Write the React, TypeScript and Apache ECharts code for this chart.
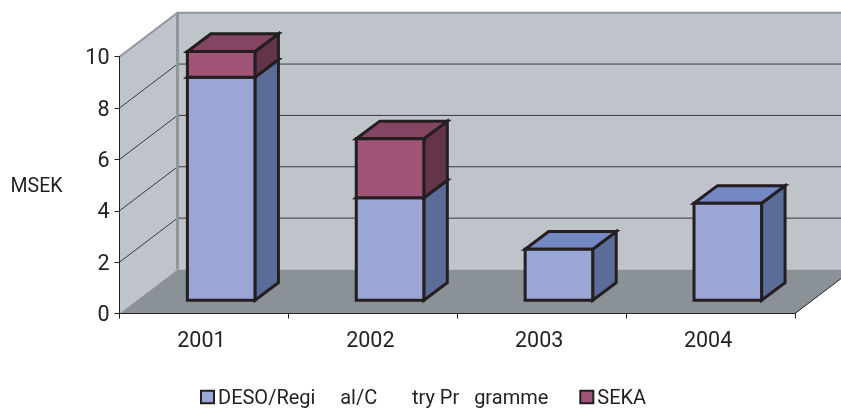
import React, { useEffect, useRef } from "react";
import * as echarts from "echarts";

const categories = ["2001", "2002", "2003", "2004"];
const desoName = "DESO/Regi     al/C       try Pr   gramme";
const sekaName = "SEKA";
const desoValues = [8.69, 3.99, 1.99, 3.78];
const sekaValues = [1.0, 2.3, 0, 0];
const yTicks = [0, 2, 4, 6, 8, 10];

const INK = "#231f20";
const DEPTH_X = 58;
const DEPTH_Y = 44;

function frameItem(params: any, api: any) {
  const cs = params.coordSys;
  const x0 = cs.x, x1 = cs.x + cs.width;
  const yAt = (v: number) => api.coord([0, v])[1];
  const y0 = yAt(0), y10 = yAt(10);
  const children: any[] = [
    { type: "polygon", shape: { points: [[x0 + DEPTH_X, y10 - DEPTH_Y], [x1 + DEPTH_X, y10 - DEPTH_Y], [x1 + DEPTH_X, y0 - DEPTH_Y], [x0 + DEPTH_X, y0 - DEPTH_Y]] }, style: { fill: "#bfc3ca" } },
    { type: "polygon", shape: { points: [[x0, y10], [x0 + DEPTH_X, y10 - DEPTH_Y], [x0 + DEPTH_X, y0 - DEPTH_Y], [x0, y0]] }, style: { fill: "#bfc3ca" } },
    { type: "polygon", shape: { points: [[x0, y0], [x0 + DEPTH_X, y0 - DEPTH_Y], [x1 + DEPTH_X, y0 - DEPTH_Y], [x1, y0]] }, style: { fill: "#8a9197" } },
    { type: "line", shape: { x1: x1, y1: y0, x2: x1 + DEPTH_X, y2: y0 - DEPTH_Y }, style: { stroke: INK, lineWidth: 1 } },
  ];
  yTicks.filter((t) => t > 0 && t < 10).forEach((t) => {
    const y = yAt(t);
    children.push({ type: "polyline", shape: { points: [[x0, y], [x0 + DEPTH_X, y - DEPTH_Y], [x1 + DEPTH_X, y - DEPTH_Y]] }, style: { fill: "none", stroke: "#3a3a3c", lineWidth: 1 } });
  });
  children.push(
    { type: "polyline", shape: { points: [[x0, y10], [x0 + DEPTH_X, y10 - DEPTH_Y], [x1 + DEPTH_X, y10 - DEPTH_Y]] }, style: { fill: "none", stroke: "#8f969d", lineWidth: 2 } },
    { type: "line", shape: { x1: x0 + DEPTH_X, y1: y10 - DEPTH_Y, x2: x0 + DEPTH_X, y2: y0 - DEPTH_Y }, style: { stroke: "#8f969d", lineWidth: 3 } }
  );
  return { type: "group", children };
}

function boxItem(colors: { front: string; side: string; top: string }) {
  return (_params: any, api: any) => {
    const cat = api.value(0), start = api.value(1), end = api.value(2);
    if (end <= start) return null;
    const band = api.size([1, 0])[0];
    const c = api.coord([cat, start]);
    const yEnd = api.coord([cat, end])[1];
    const l = c[0] - band * 0.098;
    const r = l + band * 0.4;
    const lift = 13.2;
    const b = c[1] - lift;
    const t = yEnd - lift;
    const dx = 23.5, dy = 17.6;
    const edge = { stroke: INK, lineWidth: 3, lineJoin: "miter" };
    return {
      type: "group",
      children: [
        { type: "polygon", shape: { points: [[r, b], [r + dx, b - dy], [r + dx, t - dy], [r, t]] }, style: { fill: colors.side, ...edge } },
        { type: "polygon", shape: { points: [[l, t], [l + dx, t - dy], [r + dx, t - dy], [r, t]] }, style: { fill: colors.top, ...edge } },
        { type: "polygon", shape: { points: [[l, b], [r, b], [r, t], [l, t]] }, style: { fill: colors.front, ...edge } },
      ],
    };
  };
}

export default function App() {
  const ref = useRef<HTMLDivElement>(null);
  useEffect(() => {
    const chart = echarts.init(ref.current!, undefined, { renderer: "svg" });
    const font = "Roboto";
    chart.setOption({
      animation: false,
      textStyle: { fontFamily: font, color: INK },
      grid: { left: 119.5, right: 46, top: 56.7, bottom: 94.5, containLabel: false, outerBoundsMode: "none" },
      legend: {
        data: [desoName, sekaName],
        left: 195,
        top: 382,
        itemWidth: 13,
        itemHeight: 12.5,
        itemGap: 31,
        icon: "rect",
        textStyle: { fontFamily: font, fontSize: 20, color: INK, padding: [0, 0, 0, -1] },
      },
      xAxis: {
        type: "category",
        data: categories,
        z: 5,
        axisLine: { lineStyle: { color: INK, width: 1 } },
        axisTick: { show: true, alignWithLabel: false, length: 5, lineStyle: { color: INK } },
        axisLabel: { fontFamily: font, fontSize: 21.5, color: INK, margin: 15, padding: [0, 5, 0, 0] },
      },
      yAxis: {
        type: "value",
        min: 0,
        max: 10,
        interval: 2,
        z: 5,
        name: "MSEK",
        nameLocation: "middle",
        nameRotate: 0,
        nameGap: 57,
        nameTextStyle: { fontFamily: font, fontSize: 19.5, color: INK, padding: [8, 0, 0, 0] },
        axisLine: { show: true, lineStyle: { color: INK, width: 1 } },
        axisTick: { show: true, length: 5, lineStyle: { color: INK } },
        splitLine: { show: false },
        axisLabel: { fontFamily: font, fontSize: 21.5, color: INK, margin: 10, padding: [3, 0, 0, 0] },
      },
      series: [
        { type: "custom", name: "frame", renderItem: frameItem, data: [[0, 0, 0]], clip: false, silent: true, z: 1 },
        {
          type: "custom",
          name: desoName,
          z: 2,
          clip: false,
          itemStyle: { color: "#9aa6d3", borderColor: INK, borderWidth: 2.5 },
          encode: { x: 0, y: 2 },
          renderItem: boxItem({ front: "#9aa6d3", side: "#5c6c99", top: "#7488c4" }),
          data: desoValues.map((v, i) => [i, 0, v]),
        },
        {
          type: "custom",
          name: sekaName,
          z: 3,
          clip: false,
          itemStyle: { color: "#a05478", borderColor: INK, borderWidth: 2.5 },
          encode: { x: 0, y: 2 },
          renderItem: boxItem({ front: "#a05478", side: "#63344a", top: "#834561" }),
          data: sekaValues.map((v, i) => [i, desoValues[i], desoValues[i] + v]),
        },
      ],
    });
    return () => chart.dispose();
  }, []);
  return <div ref={ref} style={{ position: "fixed", left: 0, top: 0, width: 841, height: 408 }} />;
}
